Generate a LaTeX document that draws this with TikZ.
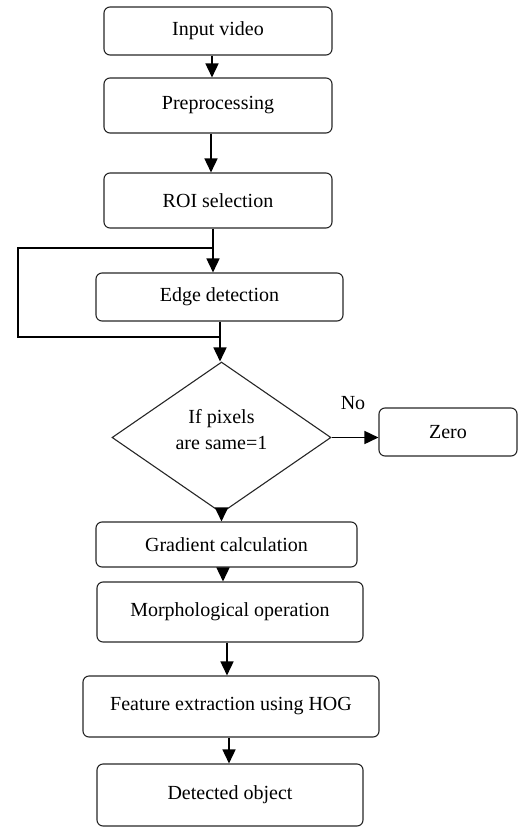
\documentclass[tikz,border=0pt]{standalone}
\usepackage{fontspec}
\setmainfont{Liberation Serif}
\usetikzlibrary{shapes.geometric,arrows.meta,calc}
\begin{document}
\begin{tikzpicture}[x=1pt,y=-1pt,
  txt/.style={font=\fontsize{20}{26}\selectfont},
  box/.style={txt, draw=black!85, line width=1.1pt, rounded corners=6pt, inner sep=0pt},
  dia/.style={draw=black!85, line width=1.1pt, diamond, aspect=1.45, inner sep=0pt, minimum width=219pt, minimum height=151pt},
  arr/.style={line width=1.6pt, -{Triangle[length=14pt,width=13pt]}},
  ln/.style={line width=1.2pt}]
\useasboundingbox (0,0) rectangle (520,827);
\node[box, minimum width=228pt, minimum height=48pt] (in) at (218,31) {Input video};
\node[box, minimum width=228pt, minimum height=55pt] (pre) at (218,105.5) {Preprocessing};
\node[box, minimum width=228pt, minimum height=55pt] (roi) at (218,200.5) {ROI selection};
\node[box, minimum width=247pt, minimum height=48pt] (edge) at (219.5,297) {Edge detection};
\node[dia] (d) at (221.5,437.5) {};
\node[txt, align=center] (dt) at (221.5,430) {If pixels\\are same=1};
\node[box, minimum width=138pt, minimum height=48pt] (zero) at (448,432) {Zero};
\node[box, minimum width=261pt, minimum height=45pt] (grad) at (226.5,544.5) {Gradient calculation};
\node[box, minimum width=266pt, minimum height=60pt] (mor) at (230,612) {Morphological operation};
\node[box, minimum width=296pt, minimum height=61pt] (feat) at (231,706.5) {Feature extraction using HOG};
\node[box, minimum width=266pt, minimum height=62pt] (det) at (230,795) {Detected object};
\node[txt] (no) at (353,403) {No};
% arrows
\draw[arr] (212,0 |- in.south) -- (212,0 |- pre.north);
\draw[arr] (211,0 |- pre.south) -- (211,0 |- roi.north);
\draw[arr] (213,0 |- roi.south) -- (213,0 |- edge.north);
\draw[arr] (220,0 |- edge.south) -- (220,0 |- d.north);
\draw[arr] (d.east) -- (d.east -| zero.west);
\draw[arr] (d.south) -- (221.5,0 |- grad.north);
\draw[arr] (223,0 |- grad.south) -- (223,0 |- mor.north);
\draw[arr] (227,0 |- mor.south) -- (227,0 |- feat.north);
\draw[arr] (229,0 |- feat.south) -- (229,0 |- det.north);
% loop
\coordinate (la) at (213,248);
\coordinate (lb) at (18,248);
\coordinate (lc) at (18,337);
\coordinate (ld) at (220,337);
\draw[ln] (la) -- (lb) -- (lc) -- (ld);
\end{tikzpicture}
\end{document}
